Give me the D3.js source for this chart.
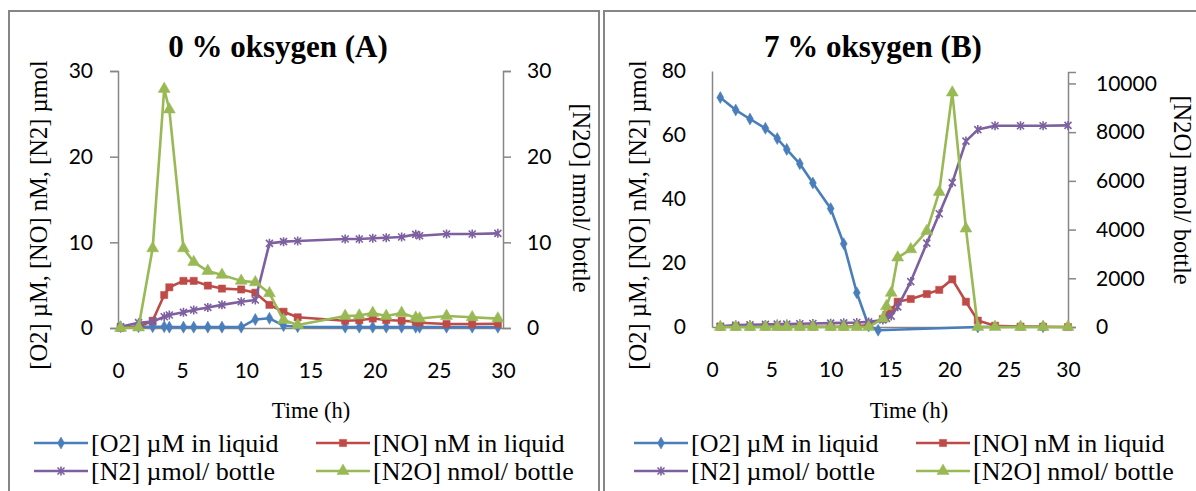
<!DOCTYPE html>
<html><head><meta charset="utf-8">
<script src="https://cdn.jsdelivr.net/npm/d3@7"></script>
<style>
html,body{margin:0;padding:0;background:#fff;overflow:hidden}
svg{display:block}
</style></head><body>
<svg id="chart" width="1196" height="491"></svg>
<script>
// ---- Panel A: 0 % oxygen ----
const timeA = [0.2, 1.6, 2.7, 3.6, 4.0, 5.1, 5.9, 7.0, 8.1, 9.6, 10.7, 11.8, 12.9, 14.0, 17.7, 18.8, 19.85, 20.9, 22.1, 23.2, 23.5, 25.6, 27.6, 29.6];
const o2A   = [0.15, 0.15, 0.15, 0.15, 0.1, 0.1, 0.1, 0.1, 0.1, 0.1, 1.0, 1.13, 0.27, 0.15, 0.1, 0.1, 0.1, 0.1, 0.1, 0.1, 0.1, 0.1, 0.1, 0.1];
const noA   = [0, 0.15, 0.85, 3.85, 4.75, 5.5, 5.5, 4.95, 4.6, 4.5, 4.12, 2.7, 1.9, 1.25, 0.85, 0.9, 1.1, 0.93, 0.85, 0.74, 0.62, 0.47, 0.47, 0.5];
const n2A   = [0.15, 0.62, 0.74, 1.32, 1.52, 1.83, 2.1, 2.4, 2.7, 3.07, 3.27, 9.88, 10.08, 10.15, 10.39, 10.39, 10.47, 10.54, 10.62, 10.93, 10.77, 10.97, 10.97, 11.05];
const n2oA  = [0, 0.05, 9.3, 27.9, 25.5, 9.3, 7.7, 6.65, 6.2, 5.5, 5.33, 4.05, 0.93, 0.35, 1.4, 1.45, 1.75, 1.4, 1.75, 1.2, 1.1, 1.4, 1.25, 1.1];

// ---- Panel B: 7 % oxygen ----
// O2 was logged at its own time points
const timeO2B = [0.7, 2.0, 3.2, 4.5, 5.5, 6.3, 7.4, 8.5, 10.0, 11.1, 12.2, 13.2, 14.0, 22.4, 27.9];
const o2B     = [71.7, 67.8, 65.0, 62.1, 58.9, 55.5, 51.0, 45.0, 37.0, 26.0, 10.7, 0.3, -1.0, 0, 0.1];
const timeB = [0.7, 2.0, 3.2, 4.5, 5.5, 6.3, 7.4, 8.5, 10.0, 11.1, 12.2, 13.2, 14.4, 14.7, 15.1, 15.65, 16.75, 18.1, 19.15, 20.25, 21.4, 22.4, 23.85, 26.0, 27.9, 30.0];
const noB   = [0.1, 0.1, 0.1, 0.1, 0.1, 0.1, 0.1, 0.1, 0.1, 0.1, 0.2, 0.6, 2.5, 3.8, 5.3, 7.9, 8.75, 10.3, 11.6, 14.9, 7.9, 2.0, 0.4, 0.1, 0.1, 0];
const n2B   = [0.2, 0.6, 0.7, 0.8, 0.9, 0.9, 1.0, 1.1, 1.2, 1.3, 1.4, 1.6, 2.2, 2.7, 3.4, 6.3, 14.2, 26.2, 35.4, 45.1, 58.1, 61.7, 62.9, 62.9, 62.9, 63.0];
const n2oB  = [0, 0, 0, 0, 0, 0, 0, 0, 0, 0, 0, 0, 345, 850, 1400, 2850, 3190, 3940, 5545, 9625, 4040, 0, 0, 0, 0, 0];

// ---- Axis ticks and labels ----
const timeTicks = [0, 5, 10, 15, 20, 25, 30];
const leftTicksA = [0, 10, 20, 30];
const rightTicksA = [0, 10, 20, 30];
const leftTicksB = [0, 20, 40, 60, 80];
const rightTicksB = [0, 2000, 4000, 6000, 8000, 10000];
const titles = ["0 % oksygen (A)", "7 % oksygen (B)"];
const seriesNames = ["[O2] µM in liquid", "[NO] nM in liquid", "[N2] µmol/ bottle", "[N2O] nmol/ bottle"];
const leftAxisTitle = "[O2] µM, [NO] nM, [N2] µmol";
const rightAxisTitle = "[N2O] nmol/ bottle";
const xAxisTitle = "Time (h)";

const colors = ["#4A7EBB", "#BE4B48", "#7D60A0", "#98B954"];
const markers = ["diamond", "square", "star", "triangle"];
const AXIS = "#868686";
const SERIF = "'Liberation Serif','Times New Roman',serif";
const SANS = "Lato, Carlito, Calibri, sans-serif";

const svg = d3.select("#chart");

function markerPath(kind) {
  if (kind === "diamond") return d3.symbol().type(d3.symbolDiamond).size(42)();
  if (kind === "square") return d3.symbol().type(d3.symbolSquare).size(52)();
  if (kind === "triangle") return d3.symbol().type(d3.symbolTriangle).size(62)();
  return "M-3.5,-3.5L3.5,3.5M-3.5,3.5L3.5,-3.5M0,-4.5L0,4.5";
}

function drawMarker(sel, kind, color) {
  const filled = kind !== "star";
  sel.append("path")
    .attr("d", markerPath(kind))
    .attr("fill", filled ? color : "none")
    .attr("stroke", color)
    .attr("stroke-width", filled ? 0.5 : 1.6);
}

function drawPanel(cfg) {
  const g = svg.append("g");

  // outer chart frame
  g.append("rect")
    .attr("x", cfg.frame[0]).attr("y", cfg.frame[1])
    .attr("width", cfg.frame[2]).attr("height", cfg.frame[3])
    .attr("fill", "#fff").attr("stroke", AXIS).attr("stroke-width", 2);

  g.append("text")
    .attr("x", cfg.titleX).attr("y", 57)
    .attr("text-anchor", "middle")
    .style("font-family", SERIF).style("font-weight", "bold").style("font-size", "31px")
    .text(cfg.title);

  const x = d3.scaleLinear().domain([0, 30]).range(cfg.xRange);
  const yL = d3.scaleLinear().domain(cfg.leftDomain).range(cfg.yRange);
  const yR = d3.scaleLinear().domain(cfg.rightDomain).range(cfg.yRangeR);

  const styleAxis = a => {
    a.select(".domain").attr("stroke", AXIS).attr("stroke-width", 1.5);
    a.selectAll(".tick line").attr("stroke", AXIS).attr("stroke-width", 1.5);
    a.selectAll("text").style("font-family", SANS).style("font-size", "21px").attr("fill", "#000");
  };

  // time axis
  g.append("g")
    .attr("transform", `translate(0,${yL(0)})`)
    .call(d3.axisBottom(x).tickValues(timeTicks).tickSize(0).tickPadding(35))
    .call(styleAxis);

  // left value axis
  g.append("g")
    .attr("transform", `translate(${cfg.xRange[0]},0)`)
    .call(d3.axisLeft(yL).tickValues(cfg.leftTicks).tickSizeOuter(0)
      .tickSize(cfg.leftTickSize).tickPadding(cfg.leftPad).tickFormat(d3.format("d")))
    .call(styleAxis);

  // right value axis
  g.append("g")
    .attr("transform", `translate(${cfg.xRange[1]},0)`)
    .call(d3.axisRight(yR).tickValues(cfg.rightTicks).tickSizeOuter(0)
      .tickSize(8).tickPadding(cfg.rightPad).tickFormat(d3.format("d")))
    .call(styleAxis);

  // axis titles
  g.append("text")
    .attr("transform", `translate(${cfg.leftTitle[0]},${cfg.leftTitle[1]}) rotate(-90)`)
    .attr("text-anchor", "middle").attr("dominant-baseline", "central")
    .style("font-family", SERIF).style("font-size", "24.5px")
    .text(leftAxisTitle);
  g.append("text")
    .attr("transform", `translate(${cfg.rightTitle[0]},${cfg.rightTitle[1]}) rotate(90)`)
    .attr("text-anchor", "middle").attr("dominant-baseline", "central")
    .style("font-family", SERIF).style("font-size", "24.5px")
    .text(rightAxisTitle);
  g.append("text")
    .attr("x", cfg.xTitleX).attr("y", 418)
    .attr("text-anchor", "middle")
    .style("font-family", SERIF).style("font-size", "22.5px")
    .text(xAxisTitle);

  // series: O2, NO, N2 on the left axis; N2O on the right axis
  const series = [
    { t: cfg.timeO2, vals: cfg.o2, y: yL },
    { t: cfg.time, vals: cfg.no, y: yL },
    { t: cfg.time, vals: cfg.n2, y: yL },
    { t: cfg.time, vals: cfg.n2o, y: yR }
  ];
  series.forEach((s, i) => {
    const pts = s.t.map((t, k) => [t, s.vals[k]]);
    const line = d3.line().x(d => x(d[0])).y(d => s.y(d[1]));
    g.append("path").datum(pts)
      .attr("d", line).attr("fill", "none")
      .attr("stroke", colors[i]).attr("stroke-width", 2.6)
      .attr("stroke-linejoin", "round");
    const mk = g.append("g").selectAll("g").data(pts).join("g")
      .attr("transform", d => `translate(${x(d[0])},${s.y(d[1])})`);
    mk.each(function () { drawMarker(d3.select(this), markers[i], colors[i]); });
  });

  // legend (two rows, two columns)
  const lg = g.append("g");
  seriesNames.forEach((name, i) => {
    const col = i % 2, row = Math.floor(i / 2);
    const x0 = cfg.legendX[col];
    const yy = 443 + row * 28;
    lg.append("line").attr("x1", x0).attr("x2", x0 + 54).attr("y1", yy).attr("y2", yy)
      .attr("stroke", colors[i]).attr("stroke-width", 2.6);
    const m = lg.append("g").attr("transform", `translate(${x0 + 27},${yy})`);
    drawMarker(m, markers[i], colors[i]);
    lg.append("text").attr("x", x0 + 57).attr("y", yy + 8.5)
      .style("font-family", SERIF).style("font-size", "26px")
      .text(name);
  });
}

drawPanel({
  frame: [9, 11, 590, 500],
  title: titles[0], titleX: 278,
  xRange: [118, 503], yRange: [328, 71], yRangeR: [328, 71],
  leftDomain: [0, 30], rightDomain: [0, 30],
  leftTicks: leftTicksA, rightTicks: rightTicksA,
  leftTickSize: 8, leftPad: 17, rightPad: 16,
  leftTitle: [38, 215], rightTitle: [581, 198],
  xTitleX: 311,
  timeO2: timeA, time: timeA, o2: o2A, no: noA, n2: n2A, n2o: n2oA,
  legendX: [34, 316]
});

drawPanel({
  frame: [604, 11, 600, 500],
  title: titles[1], titleX: 873,
  xRange: [712, 1068], yRange: [327, 71], yRangeR: [327, 72],
  leftDomain: [0, 80], rightDomain: [0, 10470],
  leftTicks: leftTicksB, rightTicks: rightTicksB,
  leftTickSize: 0, leftPad: 26, rightPad: 20,
  leftTitle: [637, 215], rightTitle: [1182, 190],
  xTitleX: 909,
  timeO2: timeO2B, time: timeB, o2: o2B, no: noB, n2: n2B, n2o: n2oB,
  legendX: [634, 916]
});
</script></body></html>
